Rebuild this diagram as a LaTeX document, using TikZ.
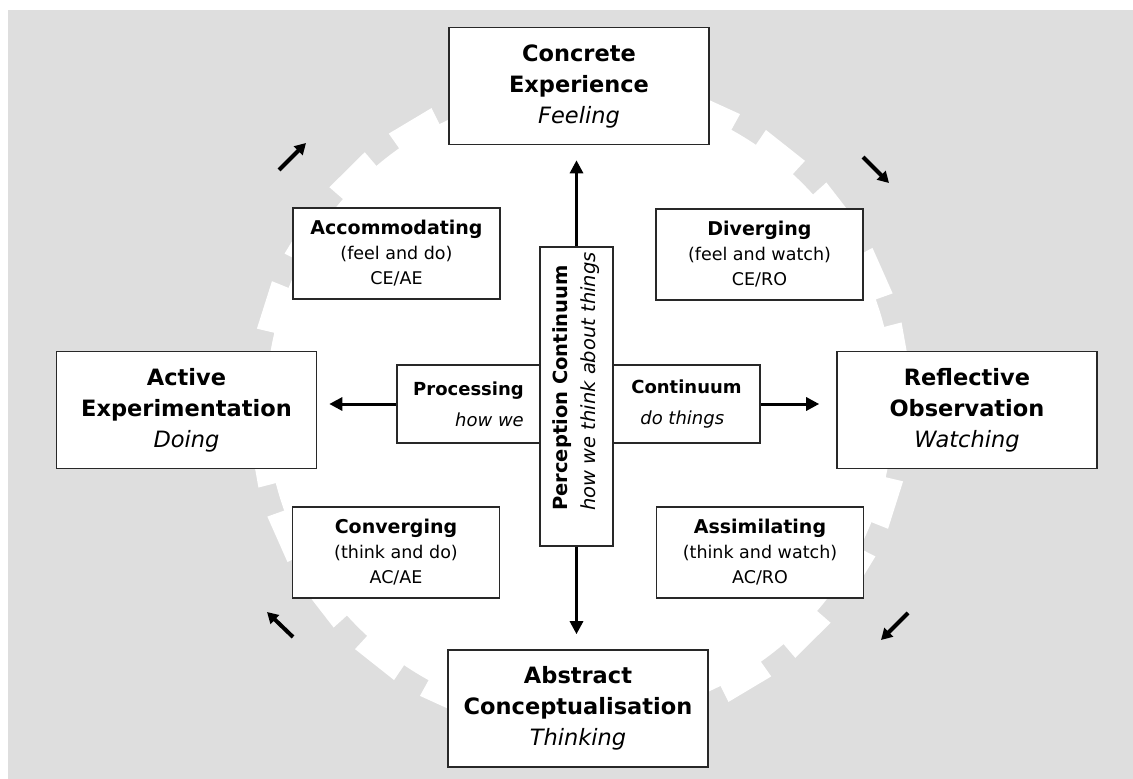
\documentclass[tikz,border=0pt]{standalone}
\usepackage{fontspec}
\setmainfont{DejaVu Sans}
\usetikzlibrary{arrows.meta,positioning}
\definecolor{bggray}{RGB}{222,222,222}
\definecolor{boxline}{RGB}{40,40,40}
\newcommand{\stagetext}[3]{\textbf{#1}\\\textbf{#2}\\\textit{#3}}
\newcommand{\learntext}[3]{{\fontsize{19}{25}\selectfont\textbf{#1}}\\#2\\#3}

\begin{document}
\begin{tikzpicture}[
    x=1pt, y=-1pt,
    box/.style={rectangle, draw=boxline, line width=1.6pt, fill=white,
                align=center, inner sep=0pt},
    stage/.style={box, minimum width=260pt, minimum height=117pt,
                  font=\fontsize{22.5}{31}\selectfont},
    learnbox/.style={box, minimum width=207pt, minimum height=91pt,
                     font=\fontsize{17.5}{25}\selectfont},
    axisbox/.style={box, minimum height=78pt, font=\fontsize{18}{31}\selectfont},
    arrow/.style={-{Triangle[length=13pt, width=13pt]}, line width=3pt},
    cyclearrow/.style={-{Triangle[length=11pt, width=12pt]}, line width=4pt}
]
\useasboundingbox (0,0) rectangle (1133,779);

% Background and gear
\fill[bggray] (8,10) rectangle (1133,779);
\begin{scope}[shift={(580,405)}]
  \fill[white] (0,0) circle (314);
  \foreach \i in {0,...,25}
    \fill[white] ({3.75+\i*13.846-4.3}:310) -- ({3.75+\i*13.846-4.3}:332)
          -- ({3.75+\i*13.846+4.3}:332) -- ({3.75+\i*13.846+4.3}:310) -- cycle;
\end{scope}

% Four stages
\node[stage] (ce) at (579,86)    {\stagetext{Concrete}{Experience}{Feeling}};
\node[stage] (ae) at (186.5,410) {\stagetext{Active}{Experimentation}{Doing}};
\node[stage] (ro) at (967,410)   {\stagetext{Reflective}{Observation}{Watching}};
\node[stage] (ac) at (578,708.5) {\stagetext{Abstract}{Conceptualisation}{Thinking}};

% Four learning styles
\node[learnbox] (accom) at (396.5,253.5) {\learntext{Accommodating}{(feel and do)}{CE/AE}};
\node[learnbox] (diverg) at (759.5,254.5) {\learntext{Diverging}{(feel and watch)}{CE/RO}};
\node[learnbox] (converg) at (396,552.5) {\learntext{Converging}{(think and do)}{AC/AE}};
\node[learnbox] (assim) at (760,552.5) {\learntext{Assimilating}{(think and watch)}{AC/RO}};

% Processing continuum (split by the vertical box)
\node[axisbox, minimum width=143pt, align=right] (procL) at (468.5,404)
     {\textbf{Processing}\\\textit{how we}};
\node[axisbox, minimum width=147pt, align=left] (procR) at (686.5,404)
     {\textbf{Continuum}\\\hspace*{9pt}\textit{do things}};

% Perception continuum (rotated: east = top, west = bottom)
\node[box, rotate=90, minimum width=299pt, minimum height=73pt, align=left,
      font=\fontsize{19.5}{28}\selectfont] (perc) at (576.5,396.5)
     {\hspace*{30pt}\textbf{Perception Continuum}\\\hspace*{30pt}\textit{how we think about things}};

% Arrows
\draw[arrow, shorten >=15pt] (perc.east) -- (perc.east |- ce.south);
\draw[arrow, shorten >=15pt] (perc.west) -- (perc.west |- ac.north);
\draw[arrow, shorten >=12pt] (procL.west) -- (procL.west -| ae.east);
\draw[arrow, shorten >=17pt] (procR.east) -- (procR.east -| ro.west);

% Cycle arrows
\coordinate (ulTail) at (279,170); \coordinate (ulTip) at (306,143);
\coordinate (urTail) at (863,157); \coordinate (urTip) at (889,183);
\coordinate (lrTail) at (908,613); \coordinate (lrTip) at (881,640);
\coordinate (llTail) at (293,637); \coordinate (llTip) at (267,612);
\draw[cyclearrow] (ulTail) -- (ulTip);
\draw[cyclearrow] (urTail) -- (urTip);
\draw[cyclearrow] (lrTail) -- (lrTip);
\draw[cyclearrow] (llTail) -- (llTip);

\end{tikzpicture}
\end{document}
